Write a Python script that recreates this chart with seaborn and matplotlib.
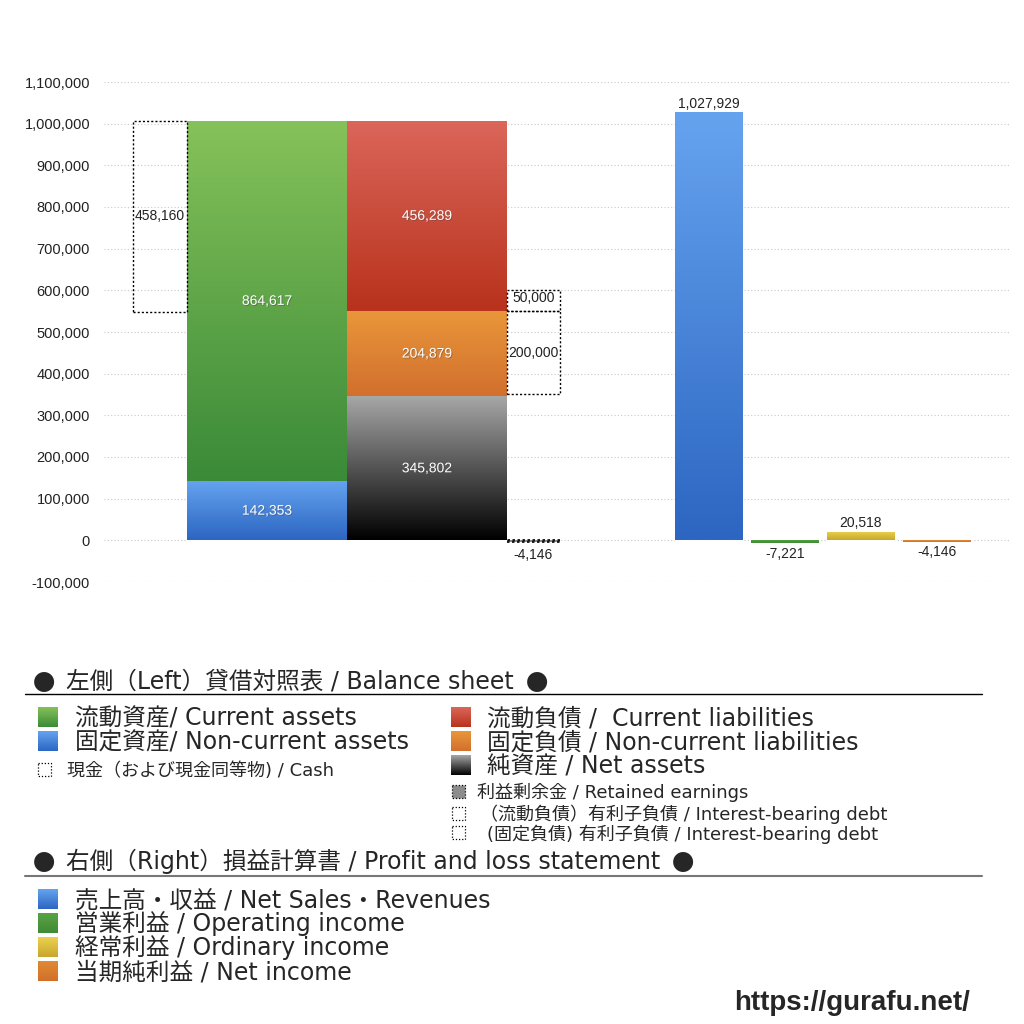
import numpy as np
import pandas as pd
import matplotlib
matplotlib.use("Agg")
import matplotlib.pyplot as plt
import matplotlib.patheffects as pe
from matplotlib.colors import LinearSegmentedColormap
from matplotlib.patches import Rectangle
import seaborn as sns

# Balance sheet (left)
current_assets = 864617
noncurrent_assets = 142353
cash = 458160
current_liabilities = 456289
noncurrent_liabilities = 204879
net_assets = 345802
retained_earnings = -4146
debt_current = 50000
debt_noncurrent = 200000

# Profit and loss statement (right)
pl_names = ["売上高・収益", "営業利益", "経常利益", "当期純利益"]
pl_values = [1027929, -7221, 20518, -4146]
pl_labels = ["1,027,929", "-7,221", "20,518", "-4,146"]

y_ticks = list(range(-100000, 1100001, 100000))

# gradient colours (top, bottom)
C_GREEN = ("#86c25a", "#3a8a38")
C_BLUE = ("#66a3ef", "#2c66c2")
C_RED = ("#db665a", "#b8321c")
C_ORANGE = ("#e9973b", "#d26f2d")
C_BLACK = ("#a8a8a8", "#000000")
C_OPGREEN = ("#5aa345", "#3f8a37")
C_YELLOW = ("#ecd24e", "#c8a62e")
C_NETORANGE = ("#e08a34", "#d2702b")

sns.set_style("white")
plt.rcParams["font.family"] = ["Liberation Sans", "Noto Sans CJK JP", "DejaVu Sans"]
LEGEND_FONT = ["DejaVu Sans", "Noto Sans CJK JP"]


def grad(ax, x0, x1, ylow, yhigh, colors, z=3, clip=None):
    cmap = LinearSegmentedColormap.from_list("g", [colors[1], colors[0]])
    g = np.linspace(0, 1, 256).reshape(-1, 1)
    im = ax.imshow(g, cmap=cmap, extent=(x0, x1, ylow, yhigh), origin="lower",
                   aspect="auto", zorder=z, interpolation="bilinear")
    if clip is not None:
        im.set_clip_path(clip)
    return im


def bar_grad(ax, patch, colors):
    x0, w = patch.get_x(), patch.get_width()
    y0, h = patch.get_y(), patch.get_height()
    grad(ax, x0, x0 + w, min(y0, y0 + h), max(y0, y0 + h), colors,
         z=patch.get_zorder() + 0.1, clip=patch)


fig = plt.figure(figsize=(10.24, 10.24), dpi=100)
ax = fig.add_axes([104 / 1024, 1 - 582 / 1024, 906 / 1024, 500 / 1024])

# layout (x in axis units = pixels from the axis left edge)
CASH_X, CASH_W = 29, 54
ASSET_X, BS_W = 83, 160
LIAB_X = 243
DEBT_X, DEBT_W = 403, 53
pl_pos = [605, 681, 757, 833]
PL_W = 68

total_assets = current_assets + noncurrent_assets
in_label = dict(color="white", fontsize=10, ha="center", va="center", zorder=6,
                path_effects=[pe.withSimplePatchShadow(offset=(0.7, -0.7), alpha=0.45)])
out_label = dict(color="#222222", fontsize=10, ha="center", va="center", zorder=6)

# assets
b = ax.bar(ASSET_X, noncurrent_assets, width=BS_W, align="edge", color=C_BLUE[1], zorder=3)
bar_grad(ax, b[0], C_BLUE)
b = ax.bar(ASSET_X, current_assets, bottom=noncurrent_assets, width=BS_W, align="edge",
           color=C_GREEN[1], zorder=3)
bar_grad(ax, b[0], C_GREEN)
ax.text(ASSET_X + BS_W / 2, noncurrent_assets / 2, f"{noncurrent_assets:,}", **in_label)
ax.text(ASSET_X + BS_W / 2, noncurrent_assets + current_assets / 2, f"{current_assets:,}", **in_label)

# liabilities + net assets
stack = [(net_assets, C_BLACK), (noncurrent_liabilities, C_ORANGE), (current_liabilities, C_RED)]
base = 0
for val, col in stack:
    b = ax.bar(LIAB_X, val, bottom=base, width=BS_W, align="edge", color=col[1], zorder=3)
    bar_grad(ax, b[0], col)
    ax.text(LIAB_X + BS_W / 2, base + val / 2, f"{val:,}", **in_label)
    base += val

dot = dict(fill=False, edgecolor="black", linewidth=1.0, linestyle=(0, (1.5, 1.5)), zorder=4)
# cash
ax.add_patch(Rectangle((CASH_X, total_assets - cash), CASH_W, cash, **dot))
ax.text(CASH_X + CASH_W / 2, total_assets - cash / 2, f"{cash:,}", **out_label)
# interest-bearing debt
liab_split = net_assets + noncurrent_liabilities
ax.add_patch(Rectangle((DEBT_X, liab_split), DEBT_W, debt_current, **dot))
ax.text(DEBT_X + DEBT_W / 2, liab_split + debt_current * 0.6, f"{debt_current:,}", **out_label)
ax.add_patch(Rectangle((DEBT_X, liab_split - debt_noncurrent), DEBT_W, debt_noncurrent, **dot))
ax.text(DEBT_X + DEBT_W / 2, liab_split - debt_noncurrent / 2, f"{debt_noncurrent:,}", **out_label)
# retained earnings
ax.add_patch(Rectangle((DEBT_X, retained_earnings), DEBT_W, -retained_earnings,
                       facecolor="#888888", edgecolor="black", linewidth=1.2,
                       linestyle=(0, (1.5, 1.5)), zorder=4))
ax.text(DEBT_X + DEBT_W / 2, -36000, f"{retained_earnings:,}", **out_label)

# profit and loss bars
pl = pd.DataFrame({"pos": pl_pos, "value": pl_values, "name": pl_names})
pl_colors = [C_BLUE, C_OPGREEN, C_YELLOW, C_NETORANGE]
n_before = len(ax.patches)
sns.barplot(data=pl, x="pos", y="value", hue="name", native_scale=True, dodge=False,
            width=PL_W / 76, palette=[c[1] for c in pl_colors], legend=False,
            errorbar=None, ax=ax, zorder=3, saturation=1)
pl_patches = sorted(ax.patches[n_before:], key=lambda p: p.get_x())
for p, col in zip(pl_patches, pl_colors):
    bar_grad(ax, p, col)
for x, v, lab in zip(pl_pos, pl_values, pl_labels):
    yy = v + 20000 if v > 0 else v - 25000
    ax.text(x, yy, lab, **out_label)

ax.set_xlim(0, 906)
ax.set_ylim(-100000, 1100000)
ax.set_xticks([])
ax.set_yticks(y_ticks)
ax.set_yticklabels([f"{t:,}" for t in y_ticks], fontsize=10.5, color="#222222")
ax.tick_params(axis="y", length=0, pad=10)
ax.set_xlabel("")
ax.set_ylabel("")
ax.grid(axis="y", color="#c8c8c8", linestyle=(0, (1, 2)), linewidth=0.8, zorder=0)
ax.set_axisbelow(True)
sns.despine(ax=ax, left=True, bottom=True)

# ---- legend area (pixel coordinates) ----
lg = fig.add_axes([0, 0, 1, 1], zorder=-1)
lg.set_xlim(0, 1024)
lg.set_ylim(1024, 0)
lg.axis("off")
renderer = fig.canvas.get_renderer()


def sq(x, y, s, colors):
    grad(lg, x, x + s, y + s, y, colors, z=2)


def dsq(x, y, s, face="none"):
    lg.add_patch(Rectangle((x, y), s, s, facecolor=face, edgecolor="black",
                           linewidth=0.9, linestyle=(0, (1, 1.5)), zorder=3))


big = 17
small = 13


def row(x, yc, txt, size):
    # yc = visual centre of the line, text is placed on its baseline
    return lg.text(x, yc + size * 0.5, txt, fontsize=size, va="baseline", family=LEGEND_FONT)


def bullet(x, yc):
    lg.text(x, yc + 9.5, "●", fontsize=16, va="baseline", family=["Noto Sans CJK JP"])


def header(yc, txt):
    bullet(33, yc)
    t = row(66, yc, txt, big)
    bb = t.get_window_extent(renderer)
    bullet(bb.x1 + 12, yc)


header(680, "左側（Left）貸借対照表 / Balance sheet")
lg.plot([25, 982], [694, 694], color="black", linewidth=1.0)
sq(38, 707, 20, C_GREEN)
row(75, 717, "流動資産/ Current assets", big)
sq(38, 731, 20, C_BLUE)
row(75, 741, "固定資産/ Non-current assets", big)
dsq(38, 763, 13)
row(67, 770, "現金（および現金同等物) / Cash", small)

sq(451, 707, 20, C_RED)
row(487, 717, "流動負債 /  Current liabilities", big)
sq(451, 731, 20, C_ORANGE)
row(487, 741, "固定負債 / Non-current liabilities", big)
sq(451, 755, 20, C_BLACK)
row(487, 765, "純資産 / Net assets", big)
dsq(452, 785, 13, face="#8c8c8c")
row(477, 792, "利益剰余金 / Retained earnings", small)
dsq(452, 807, 13)
row(480, 814, "（流動負債）有利子負債 / Interest-bearing debt", small)
dsq(452, 826, 13)
row(487, 833, "(固定負債) 有利子負債 / Interest-bearing debt", small)

header(860, "右側（Right）損益計算書 / Profit and loss statement")
lg.plot([25, 982], [876, 876], color="#777777", linewidth=1.5)
pl_rows = ["売上高・収益 / Net Sales・Revenues", "営業利益 / Operating income",
           "経常利益 / Ordinary income", "当期純利益 / Net income"]
for i, (txt, col) in enumerate(zip(pl_rows, pl_colors)):
    sq(38, 889 + 24 * i, 20, col)
    row(75, 899 + 24 * i, txt, big)

lg.text(970, 1003, "https://gurafu.net/", fontsize=20, fontweight="bold", ha="right",
        va="center", family=["Liberation Sans"])

fig.savefig("out.png", dpi=100)
